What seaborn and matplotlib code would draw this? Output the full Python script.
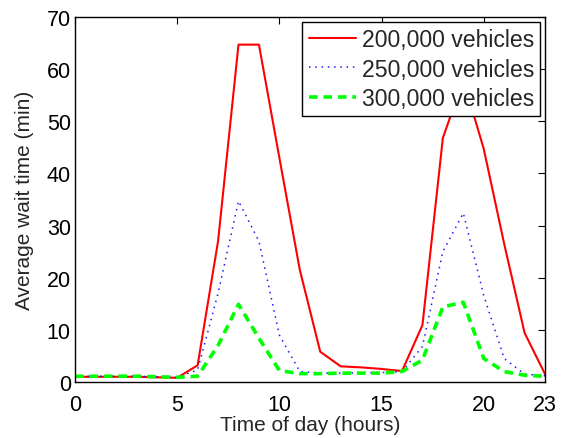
import matplotlib
matplotlib.use("Agg")
import matplotlib.pyplot as plt
import seaborn as sns
import pandas as pd

hours = list(range(24))
labels = ["200,000 vehicles", "250,000 vehicles", "300,000 vehicles"]
wait_200k = [1.0, 1.0, 1.0, 1.0, 0.9, 0.8, 3.2, 27.0, 64.7, 64.7, 43.0, 21.5,
             5.8, 3.0, 2.8, 2.5, 2.1, 10.9, 46.8, 58.0, 44.7, 26.5, 9.4, 1.5]
wait_250k = [1.1, 1.1, 1.1, 1.1, 1.0, 0.9, 2.3, 17.0, 34.7, 27.0, 9.0, 2.0,
             1.7, 1.7, 1.8, 1.8, 2.0, 6.8, 25.0, 32.4, 16.6, 4.5, 1.5, 1.2]
wait_300k = [1.1, 1.1, 1.1, 1.1, 1.0, 0.9, 1.1, 7.0, 14.9, 8.4, 2.2, 1.6,
             1.6, 1.7, 1.7, 1.7, 2.0, 4.2, 14.4, 15.3, 4.5, 2.0, 1.3, 1.1]
x_ticks = [0, 5, 10, 15, 20, 23]
y_ticks = [0, 10, 20, 30, 40, 50, 60, 70]

sns.set_theme(style="white")
plt.rcParams["font.family"] = ["Liberation Sans", "DejaVu Sans"]
plt.rcParams["xtick.direction"] = "in"
plt.rcParams["ytick.direction"] = "in"

fig = plt.figure(figsize=(5.66, 4.39), dpi=100)
ax = fig.add_axes([0.1325, 0.1276, 0.8305, 0.8314])

styles = [
    dict(color=(1, 0, 0), lw=1.5, ls="-"),
    dict(color=(0.1, 0.1, 1), lw=1.1, ls=(0, (1, 3.1))),
    dict(color=(0, 1, 0), lw=2.6, ls=(0, (2.4, 1.6))),
]
for vals, lab, st in zip([wait_200k, wait_250k, wait_300k], labels, styles):
    df = pd.DataFrame({"hour": hours, "wait": vals})
    sns.lineplot(data=df, x="hour", y="wait", ax=ax, label=lab,
                 color=st["color"], linewidth=st["lw"], linestyle=st["ls"])

ax.set_xlim(0, 23)
ax.set_ylim(0, 70)
ax.set_xticks(x_ticks)
ax.set_yticks(y_ticks)
ax.tick_params(axis="both", which="both", direction="in", length=5, width=0.8,
               top=True, right=True, labelsize=15.5, colors="black")
ax.tick_params(axis="x", pad=9)
ax.tick_params(axis="y", pad=3)
for s in ax.spines.values():
    s.set_color("black")
    s.set_linewidth(1.0)
ax.set_xlabel("Time of day (hours)", fontsize=15, labelpad=0)
ax.set_ylabel("Average wait time (min)", fontsize=15, labelpad=9)

leg = ax.legend(loc="upper right", fontsize=16.6, frameon=True, fancybox=False,
                edgecolor="black", framealpha=1, borderaxespad=0.2,
                handlelength=2.05, handletextpad=0.25, labelspacing=0.28,
                borderpad=0.28)
leg.get_frame().set_linewidth(1.0)

fig.savefig("out.png", dpi=100)
